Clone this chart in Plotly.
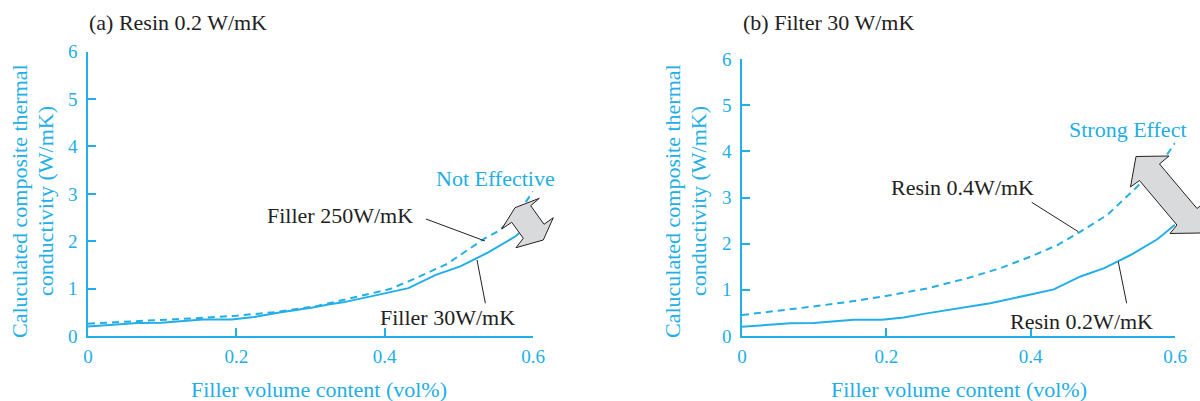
import plotly.graph_objects as go

# ---------------- data ----------------
# Resin 0.2 W/mK + Filler 30 W/mK (solid, appears in both panels)
x_resin02_f30 = [0, 0.067, 0.099, 0.155, 0.194, 0.224, 0.256, 0.303, 0.326, 0.344,
                 0.4, 0.432, 0.469, 0.502, 0.539, 0.576, 0.6]
y_resin02_f30 = [0.2, 0.275, 0.28, 0.35, 0.35, 0.4, 0.49, 0.6, 0.67, 0.71,
                 0.9, 1.01, 1.29, 1.47, 1.76, 2.1, 2.41]

# Panel (a): Filler 250 W/mK (dashed)
x_f250 = [0, 0.05, 0.1, 0.15, 0.2, 0.25, 0.308, 0.35, 0.407, 0.439, 0.484, 0.535, 0.556, 0.589, 0.6]
y_f250 = [0.26, 0.3, 0.33, 0.38, 0.43, 0.5, 0.63, 0.78, 0.99, 1.2, 1.52, 2.06, 2.24, 2.8, 3.05]

# Panel (b): Resin 0.4 W/mK (dashed)
x_resin04 = [0, 0.044, 0.099, 0.15, 0.201, 0.256, 0.312, 0.358, 0.4, 0.437, 0.469, 0.506, 0.548, 0.589, 0.6]
y_resin04 = [0.455, 0.53, 0.64, 0.745, 0.87, 1.03, 1.25, 1.47, 1.72, 1.97, 2.26, 2.62, 3.24, 3.93, 4.18]

x_tickvals = [0, 0.2, 0.4, 0.6]
x_ticktext = ["0", "0.2", "0.4", "0.6"]
y_tickvals = [0, 1, 2, 3, 4, 5, 6]
y_ticktext = ["0", "1", "2", "3", "4", "5", "6"]

title_a = "(a) Resin 0.2 W/mK"
title_b = "(b) Filter 30 W/mK"
y_title_lines = ["Caluculated composite thermal", "conductivity (W/mK)"]
x_title = "Filler volume content (vol%)"

# ---------------- style ----------------
W, H = 1200, 401
BLUE = "#22AEE6"
FONT = "Liberation Serif"
GRAY = "#D9DADC"


def pxx(x):
    return x / W


def pxy(y):
    return 1 - y / H


fig = go.Figure()

fig.add_trace(go.Scatter(x=x_f250, y=y_f250, mode="lines", xaxis="x", yaxis="y",
                         line=dict(color=BLUE, width=2, dash="7px,5px"), showlegend=False))
fig.add_trace(go.Scatter(x=x_resin02_f30, y=y_resin02_f30, mode="lines", xaxis="x", yaxis="y",
                         line=dict(color=BLUE, width=2), showlegend=False))
fig.add_trace(go.Scatter(x=x_resin04, y=y_resin04, mode="lines", xaxis="x2", yaxis="y2",
                         line=dict(color=BLUE, width=2, dash="7px,5px"), showlegend=False))
fig.add_trace(go.Scatter(x=x_resin02_f30, y=y_resin02_f30, mode="lines", xaxis="x2", yaxis="y2",
                         line=dict(color=BLUE, width=2), showlegend=False))

xa = dict(range=[0, 0.6], tickvals=x_tickvals, ticktext=x_ticktext, ticks="inside", ticklen=8,
          tickwidth=1.5, tickcolor=BLUE, showline=True, linewidth=1.5, linecolor=BLUE,
          showgrid=False, zeroline=False, tickfont=dict(family=FONT, size=19, color=BLUE),
          ticklabelstandoff=2)
ya = dict(range=[0, 6], tickvals=y_tickvals, ticktext=y_ticktext, ticks="inside", ticklen=8,
          tickwidth=1.5, tickcolor=BLUE, showline=True, linewidth=1.5, linecolor=BLUE,
          showgrid=False, zeroline=False, tickfont=dict(family=FONT, size=19, color=BLUE),
          ticklabelstandoff=5)

fig.update_layout(
    width=W, height=H, margin=dict(l=0, r=0, t=0, b=0, pad=0, autoexpand=False),
    paper_bgcolor="white", plot_bgcolor="white",
    xaxis=dict(xa, domain=[pxx(88), pxx(533)], anchor="y"),
    yaxis=dict(ya, domain=[pxy(336), pxy(51.7)], anchor="x"),
    xaxis2=dict(xa, domain=[pxx(742), pxx(1175)], anchor="y2"),
    yaxis2=dict(ya, domain=[pxy(336), pxy(59)], anchor="x2"),
)

annotations = []
# panel titles
annotations.append(dict(text=title_a, xref="paper", yref="paper", x=pxx(87), y=pxy(23),
                        xanchor="left", yanchor="middle", showarrow=False,
                        font=dict(family=FONT, size=22, color="#222222")))
annotations.append(dict(text=title_b, xref="paper", yref="paper", x=pxx(741), y=pxy(23),
                        xanchor="left", yanchor="middle", showarrow=False,
                        font=dict(family=FONT, size=22, color="#222222")))
# y axis titles (two separate lines each)
for cx1, cx2 in [(19, 45), (672, 698)]:
    for cx, line in zip((cx1, cx2), y_title_lines):
        annotations.append(dict(text=line, xref="paper", yref="paper", x=pxx(cx), y=pxy(201),
                                xanchor="center", yanchor="middle", textangle=-90, showarrow=False,
                                font=dict(family=FONT, size=22, color=BLUE)))
# x axis titles
for cx in (319, 959):
    annotations.append(dict(text=x_title, xref="paper", yref="paper", x=pxx(cx), y=pxy(389),
                            xanchor="center", yanchor="middle", showarrow=False,
                            font=dict(family=FONT, size=22, color=BLUE)))

lab_font = dict(family=FONT, size=22, color="#222222")
blue_font = dict(family=FONT, size=22, color=BLUE)
annotations += [
    dict(text="Filler 250W/mK", xref="x", yref="y", x=0.441, y=2.533, xanchor="right",
         yanchor="middle", showarrow=False, font=lab_font),
    dict(text="Filler 30W/mK", xref="x", yref="y", x=0.578, y=0.38, xanchor="right",
         yanchor="middle", showarrow=False, font=lab_font),
    dict(text="Not Effective", xref="x", yref="y", x=0.467, y=3.33, xanchor="left",
         yanchor="middle", showarrow=False, font=blue_font),
    dict(text="Resin 0.4W/mK", xref="x2", yref="y2", x=0.408, y=3.21, xanchor="right",
         yanchor="middle", showarrow=False, font=lab_font),
    dict(text="Resin 0.2W/mK", xref="x2", yref="y2", x=0.572, y=0.325, xanchor="right",
         yanchor="middle", showarrow=False, font=lab_font),
    dict(text="Strong Effect", xref="x2", yref="y2", x=0.45, y=4.48, xanchor="left",
         yanchor="middle", showarrow=False, font=blue_font),
]
fig.update_layout(annotations=annotations)

shapes = []
# leader lines
for xr, yr, x0, y0, x1, y1 in [
    ("x", "y", 0.4557, 2.469, 0.5353, 2.005),
    ("x", "y", 0.5245, 1.604, 0.5358, 0.69),
    ("x2", "y2", 0.4014, 2.896, 0.466, 2.259),
    ("x2", "y2", 0.5214, 1.609, 0.533, 0.708),
]:
    shapes.append(dict(type="line", xref=xr, yref=yr, x0=x0, y0=y0, x1=x1, y1=y1,
                       line=dict(color="#222222", width=1), layer="above"))

# double-headed block arrows (pixel outlines)
arrow_a = [(539.3, 198.3), (530.7, 205.7), (544, 224.3), (553.3, 217.7), (543.3, 240),
           (516, 247.7), (523.3, 238.3), (511.7, 222.3), (501.7, 229), (515, 207.7)]
arrow_b = [(1136, 156.5), (1169, 156), (1159.5, 164), (1197, 208.5), (1206, 201.5),
           (1200.5, 233), (1170, 233.5), (1177, 225), (1139.5, 180.5), (1130.5, 187)]
for poly in (arrow_a, arrow_b):
    path = "M " + " L ".join(f"{pxx(x):.5f},{pxy(y):.5f}" for x, y in poly) + " Z"
    shapes.append(dict(type="path", xref="paper", yref="paper", path=path,
                       fillcolor=GRAY, line=dict(color="#222222", width=1), layer="above"))
fig.update_layout(shapes=shapes)

fig.write_html("out.html", config={"displayModeBar": False},
               post_script="document.body.style.margin='0';document.body.style.overflow='hidden';")
